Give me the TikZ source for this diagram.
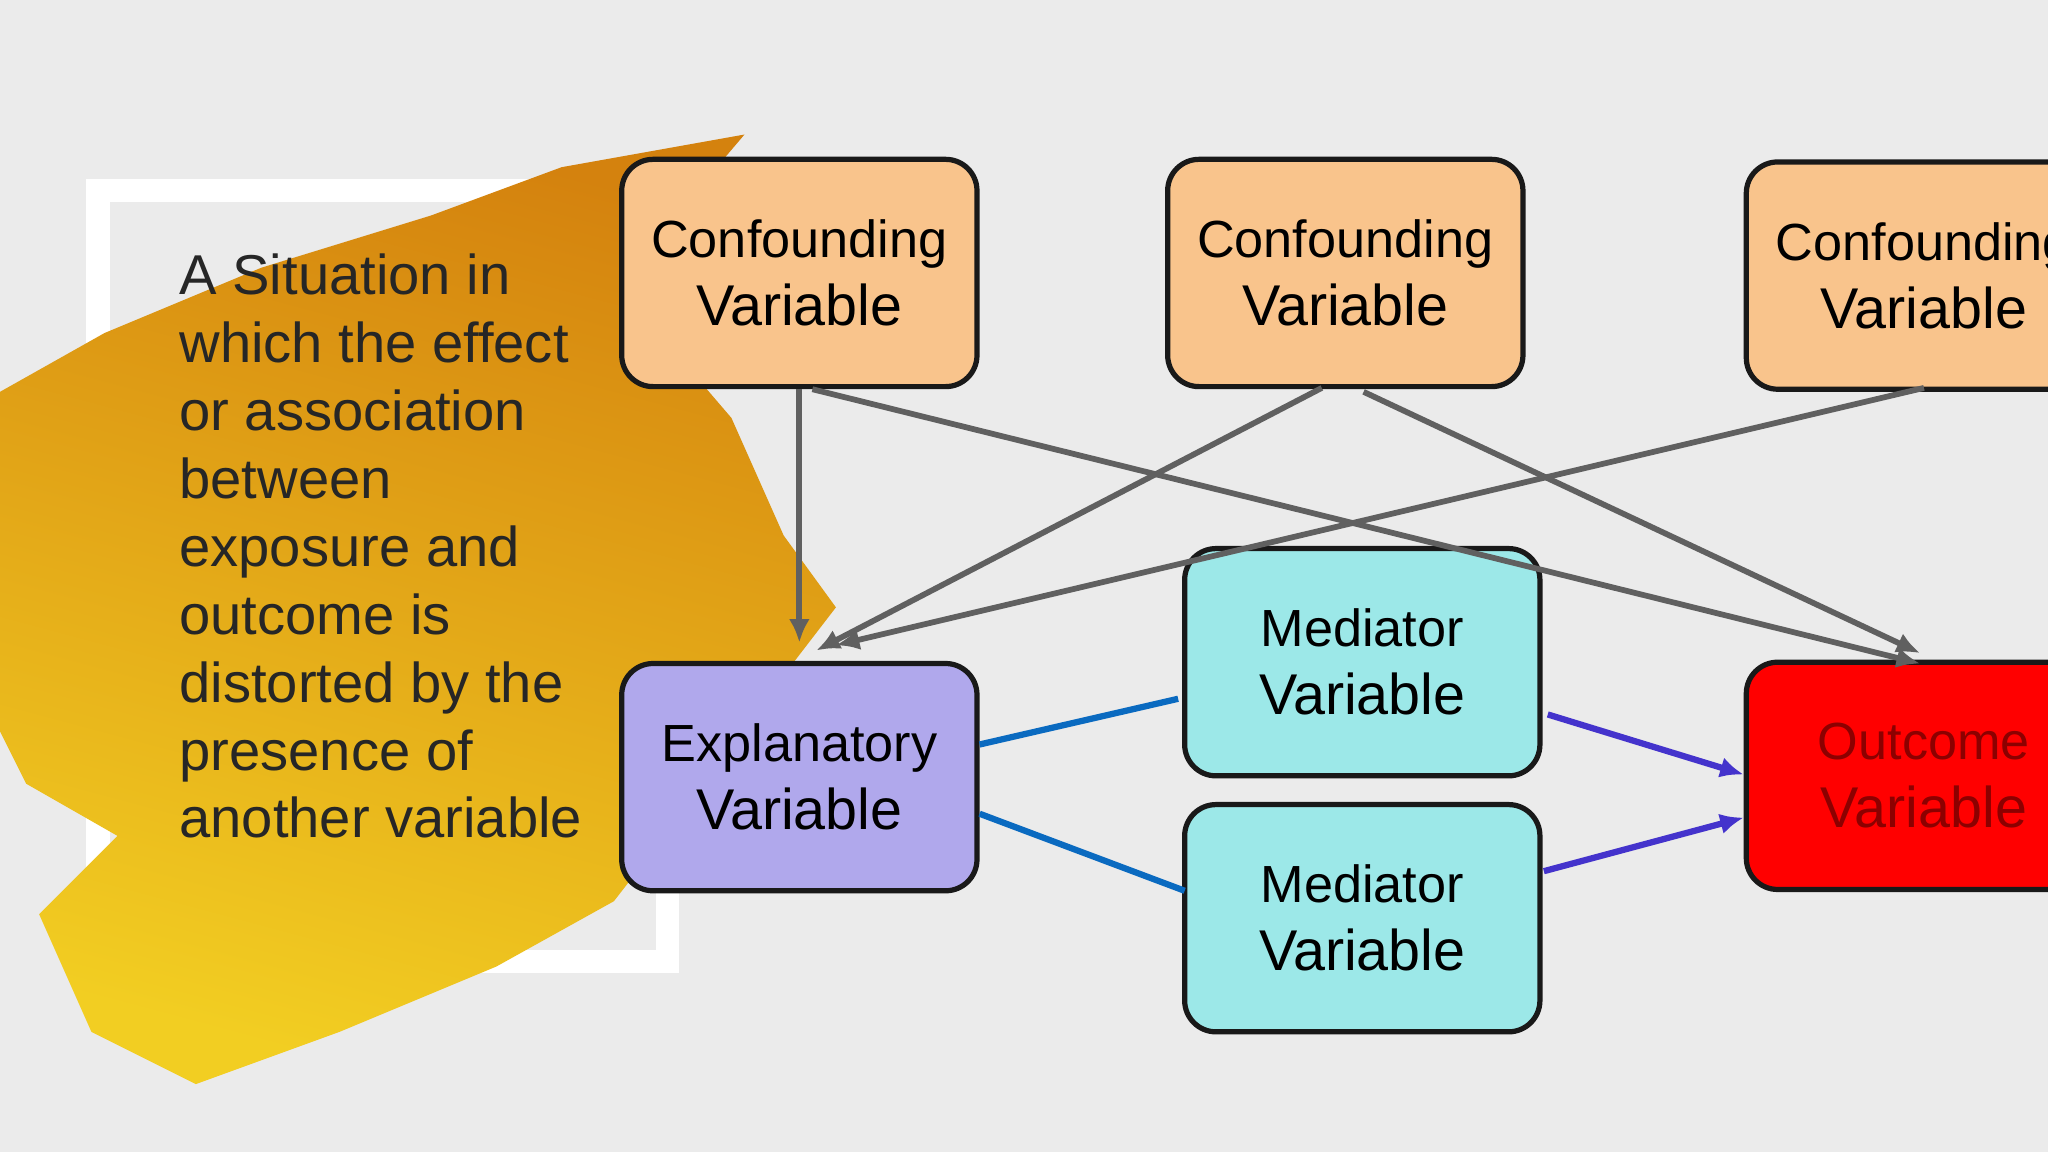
\documentclass[tikz,border=0pt]{standalone}
\usepackage{fontspec}
\setmainfont{Liberation Sans}
\usetikzlibrary{arrows.meta}
\begin{document}
\begin{tikzpicture}[x=0.5pt,y=-0.5pt,
 box/.style={draw=black!90,line width=2pt,rounded corners=12pt,minimum width=136pt,minimum height=87pt,align=center,inner sep=0pt,font=\fontsize{20}{25}\selectfont},
 conf/.style={box,fill=confc},
 med/.style={box,fill=medc},
 garr/.style={draw=gray!75!black,line width=2.2pt,-{Latex[length=9pt,width=8pt]}},
 bl/.style={draw=blc,line width=2.4pt},
 parr/.style={draw=puc,line width=2.4pt,-{Latex[length=9pt,width=8pt]}}]
\definecolor{confc}{HTML}{F9C48C}
\definecolor{medc}{HTML}{9CE8E8}
\definecolor{expc}{HTML}{B0A8EC}
\definecolor{bgc}{HTML}{EBEBEB}
\definecolor{brA}{HTML}{D4820E}
\definecolor{brB}{HTML}{F2CE22}
\definecolor{blc}{HTML}{0A6AC0}
\definecolor{puc}{HTML}{4433CC}
\useasboundingbox (0,0) rectangle (1568,882);
\clip (0,0) rectangle (1568,882);
\fill[bgc] (0,0) rectangle (1568,882);
% frame
\draw[white,line width=9pt] (75,146) rectangle (511,736);
% brush
\shade[top color=brA,bottom color=brB,shading angle=-15]
 (0,300) -- (80,255) -- (200,205) -- (330,165) -- (430,128) -- (570,103) -- (530,150)
 -- (500,250) -- (560,320) -- (600,410) -- (640,465) -- (590,530) -- (540,600)
 -- (470,690) -- (380,740) -- (260,790) -- (150,830) -- (70,790) -- (30,700)
 -- (90,640) -- (20,600) -- (0,560) -- cycle;
\node[anchor=north west,align=left,inner sep=0pt,font=\fontsize{21.5}{26}\selectfont,text=black!85] (txt) at (137,194)
 {A Situation in\\which the effect\\or association\\between\\exposure and\\outcome is\\distorted by the\\presence of\\another variable};
% nodes
\node[conf] (c1) at (612,209) {Confounding\\[1pt]{\fontsize{22}{25}\selectfont Variable}};
\node[conf] (c2) at (1030,209) {Confounding\\[1pt]{\fontsize{22}{25}\selectfont Variable}};
\node[conf] (c3) at (1473,211) {Confounding\\[1pt]{\fontsize{22}{25}\selectfont Variable}};
\node[box,fill=expc] (e) at (612,595) {Explanatory\\[1pt]{\fontsize{22}{25}\selectfont Variable}};
\node[med] (m1) at (1043,507) {Mediator\\[1pt]{\fontsize{22}{25}\selectfont Variable}};
\node[med] (m2) at (1043,703) {Mediator\\[1pt]{\fontsize{22}{25}\selectfont Variable}};
\node[box,fill=red,text=red!55!black] (o) at (1473,594) {Outcome\\[1pt]{\fontsize{22}{25}\selectfont Variable}};
% connectors
\coordinate (c1b) at (612,298); \coordinate (e1) at (612,492);
\coordinate (c1c) at (622,298); \coordinate (o1) at (1470,508);
\coordinate (c2a) at (1012,297); \coordinate (e2) at (625,498);
\coordinate (c2b) at (1044,300); \coordinate (o2) at (1470,500);
\coordinate (c3a) at (1473,297); \coordinate (e3) at (640,494);
\draw[garr] (c1b) -- (e1);
\draw[garr] (c1c) -- (o1);
\draw[garr] (c2a) -- (e2);
\draw[garr] (c2b) -- (o2);
\draw[garr] (c3a) -- (e3);
\draw[bl] (e.east |- 0,570) -- (902,535);
\draw[bl] (e.east |- 0,623) -- (907,682);
\draw[parr] (1185,547) -- (o.west |- 0,593);
\draw[parr] (1182,667) -- (o.west |- 0,626);
\end{tikzpicture}
\end{document}
